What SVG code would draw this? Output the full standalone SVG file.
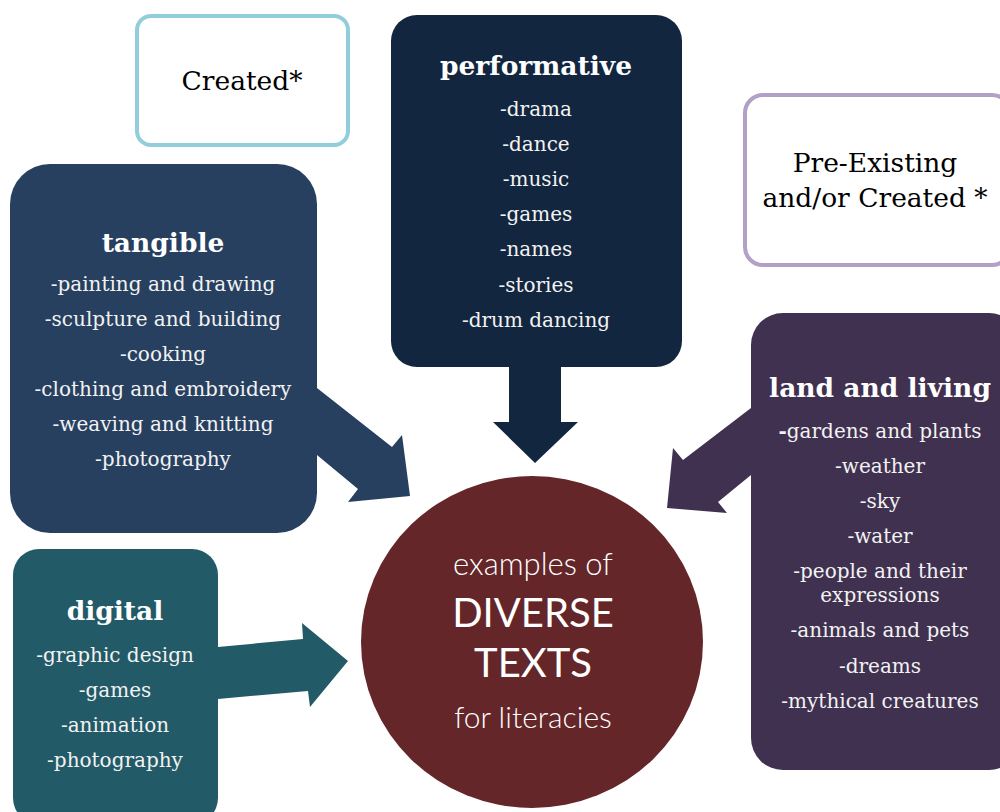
<svg xmlns="http://www.w3.org/2000/svg" width="1000" height="812" viewBox="0 0 1000 812">
<style>
.h{font-family:"DejaVu Serif","Liberation Serif",serif;font-weight:bold;font-size:26.5px;fill:#ffffff;text-anchor:middle}
.i{font-family:"DejaVu Serif","Liberation Serif",serif;font-size:20px;fill:#f2f2f2;text-anchor:middle}
.k{font-family:"DejaVu Serif","Liberation Serif",serif;font-size:26.5px;fill:#000;text-anchor:middle}
.c{font-family:Lato,"Open Sans",sans-serif;fill:#fff;text-anchor:middle}
.l{font-weight:300}
</style>
<rect width="1000" height="812" fill="#fff"/>
<g id="connectors">
<polygon points="509,367 561,367 561,422 578,422 535,463 493,422 509,422" fill="#12263f"/>
<polygon points="317,388 392,447 402,435 410,496 348,502 358,489 317,455" fill="#27405f"/>
<polygon points="751,408 683,460 673,448 667,508 727,513 718,502 751,475" fill="#403150"/>
<polygon points="218,647 303,639 302,623 348,661 310,707 308,691 218,699" fill="#225a68"/>
</g>
<g id="created">
<rect x="137" y="16" width="211" height="129" rx="14" fill="#fff" stroke="#92cddc" stroke-width="4"/>
<text class="k" x="242" y="90">Created*</text>
</g>
<g id="preexisting">
<rect x="745" y="95" width="265" height="170" rx="18" fill="#fff" stroke="#b2a1c7" stroke-width="4"/>
<text class="k" x="875" y="172">Pre-Existing</text>
<text class="k" x="875" y="207">and/or Created *</text>
</g>
<g id="performative">
<rect x="391" y="15" width="291" height="352" rx="26" fill="#12263f"/>
<text class="h" x="536" y="75">performative</text>
<text class="i" x="536" y="116">-drama</text>
<text class="i" x="536" y="151">-dance</text>
<text class="i" x="536" y="186">-music</text>
<text class="i" x="536" y="221">-games</text>
<text class="i" x="536" y="256">-names</text>
<text class="i" x="536" y="292">-stories</text>
<text class="i" x="536" y="327">-drum dancing</text>
</g>
<g id="tangible">
<rect x="10" y="164" width="307" height="369" rx="40" fill="#27405f"/>
<text class="h" x="163" y="252">tangible</text>
<text class="i" x="163" y="291">-painting and drawing</text>
<text class="i" x="163" y="326">-sculpture and building</text>
<text class="i" x="163" y="361">-cooking</text>
<text class="i" x="163" y="396">-clothing and embroidery</text>
<text class="i" x="163" y="431">-weaving and knitting</text>
<text class="i" x="163" y="466">-photography</text>
</g>
<g id="land">
<rect x="751" y="313" width="270" height="457" rx="32" fill="#403150"/>
<text class="h" x="880" y="397">land and living</text>
<text class="i" x="880" y="438"><tspan font-weight="bold">-</tspan>gardens and plants</text>
<text class="i" x="880" y="473">-weather</text>
<text class="i" x="880" y="508">-sky</text>
<text class="i" x="880" y="543">-water</text>
<text class="i" x="880" y="578">-people and their</text>
<text class="i" x="880" y="602">expressions</text>
<text class="i" x="880" y="637">-animals and pets</text>
<text class="i" x="880" y="673">-dreams</text>
<text class="i" x="880" y="708">-mythical creatures</text>
</g>
<g id="digital">
<rect x="13" y="549" width="205" height="275" rx="26" fill="#225a68"/>
<text class="h" x="115" y="620">digital</text>
<text class="i" x="115" y="662">-graphic design</text>
<text class="i" x="115" y="697">-games</text>
<text class="i" x="115" y="732">-animation</text>
<text class="i" x="115" y="767">-photography</text>
</g>
<g id="center">
<ellipse cx="532" cy="642" rx="171" ry="166" fill="#642628"/>
<text class="c l" x="533" y="575" font-size="31">examples of</text>
<text class="c" x="533" y="627" font-size="40">DIVERSE</text>
<text class="c" x="533" y="677" font-size="40">TEXTS</text>
<text class="c l" x="533" y="728" font-size="30">for literacies</text>
</g>
</svg>
